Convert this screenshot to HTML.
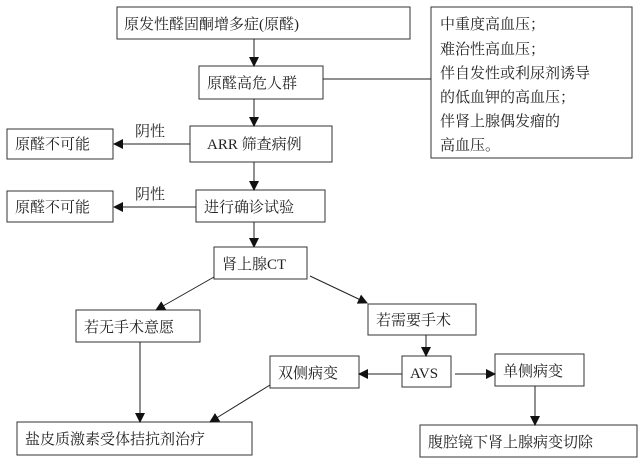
<!DOCTYPE html>
<html><head><meta charset="utf-8"><style>
body{margin:0;width:640px;height:461px;background:#fff;overflow:hidden}
svg text{font-family:"Liberation Serif","Noto Serif CJK SC",serif;font-size:15px;fill:#222}
rect{fill:#fff;stroke:#333;stroke-width:1}
line{stroke:#222;stroke-width:1}
</style></head><body>
<svg width="640" height="461" xmlns="http://www.w3.org/2000/svg">
<defs><marker id="a" markerWidth="10" markerHeight="10" refX="9" refY="5" orient="auto" markerUnits="userSpaceOnUse"><path d="M0,0 L10,5 L0,10 z" fill="#111"/></marker></defs>
<rect x="117" y="7" width="293" height="32"/><text x="124" y="29">原发性醛固酮增多症(原醛)</text>
<rect x="199" y="66" width="124" height="33"/><text x="207" y="88">原醛高危人群</text>
<rect x="431" y="7" width="201" height="151"/>
<text x="440" y="29">中重度高血压；</text><text x="440" y="54">难治性高血压；</text><text x="440" y="78">伴自发性或利尿剂诱导</text><text x="440" y="102">的低血钾的高血压；</text><text x="440" y="126">伴肾上腺偶发瘤的</text><text x="440" y="150">高血压。</text>
<line x1="323" y1="79" x2="431" y2="79"/>
<rect x="190" y="126" width="142" height="36"/><text x="207" y="149">ARR  筛查病例</text>
<rect x="7" y="129" width="106" height="30"/><text x="15" y="149">原醛不可能</text>
<line x1="190" y1="144" x2="114" y2="144" marker-end="url(#a)"/><text x="135" y="136">阴性</text>
<rect x="196" y="190" width="129" height="32"/><text x="204" y="212">进行确诊试验</text>
<rect x="7" y="191" width="106" height="31"/><text x="15" y="212">原醛不可能</text>
<line x1="196" y1="207" x2="114" y2="207" marker-end="url(#a)"/><text x="135" y="199">阴性</text>
<line x1="254" y1="39" x2="254" y2="66" marker-end="url(#a)"/>
<line x1="254" y1="99" x2="254" y2="126" marker-end="url(#a)"/>
<line x1="254" y1="162" x2="254" y2="190" marker-end="url(#a)"/>
<line x1="254" y1="222" x2="254" y2="247" marker-end="url(#a)"/>
<rect x="214" y="247" width="93" height="32"/><text x="222" y="269">肾上腺CT</text>
<rect x="76" y="310" width="124" height="32"/><text x="84" y="332">若无手术意愿</text>
<rect x="368" y="304" width="108" height="31"/><text x="376" y="325">若需要手术</text>
<rect x="402" y="356" width="49" height="31"/><text x="410" y="378">AVS</text>
<rect x="270" y="356" width="89" height="32"/><text x="278" y="378">双侧病变</text>
<rect x="495" y="354" width="89" height="32"/><text x="503" y="376">单侧病变</text>
<rect x="17" y="422" width="235" height="33"/><text x="25" y="444">盐皮质激素受体拮抗剂治疗</text>
<rect x="420" y="425" width="217" height="32"/><text x="428" y="447">腹腔镜下肾上腺病变切除</text>
<line x1="214" y1="277" x2="156" y2="310" marker-end="url(#a)"/>
<line x1="310" y1="276" x2="367" y2="303" marker-end="url(#a)"/>
<line x1="140" y1="342" x2="140" y2="422" marker-end="url(#a)"/>
<line x1="270" y1="385" x2="210" y2="422" marker-end="url(#a)"/>
<line x1="426" y1="335" x2="426" y2="356" marker-end="url(#a)"/>
<line x1="402" y1="374" x2="359" y2="374" marker-end="url(#a)"/>
<line x1="455" y1="374" x2="495" y2="374" marker-end="url(#a)"/>
<line x1="535" y1="386" x2="535" y2="425" marker-end="url(#a)"/>
</svg>
</body></html>
